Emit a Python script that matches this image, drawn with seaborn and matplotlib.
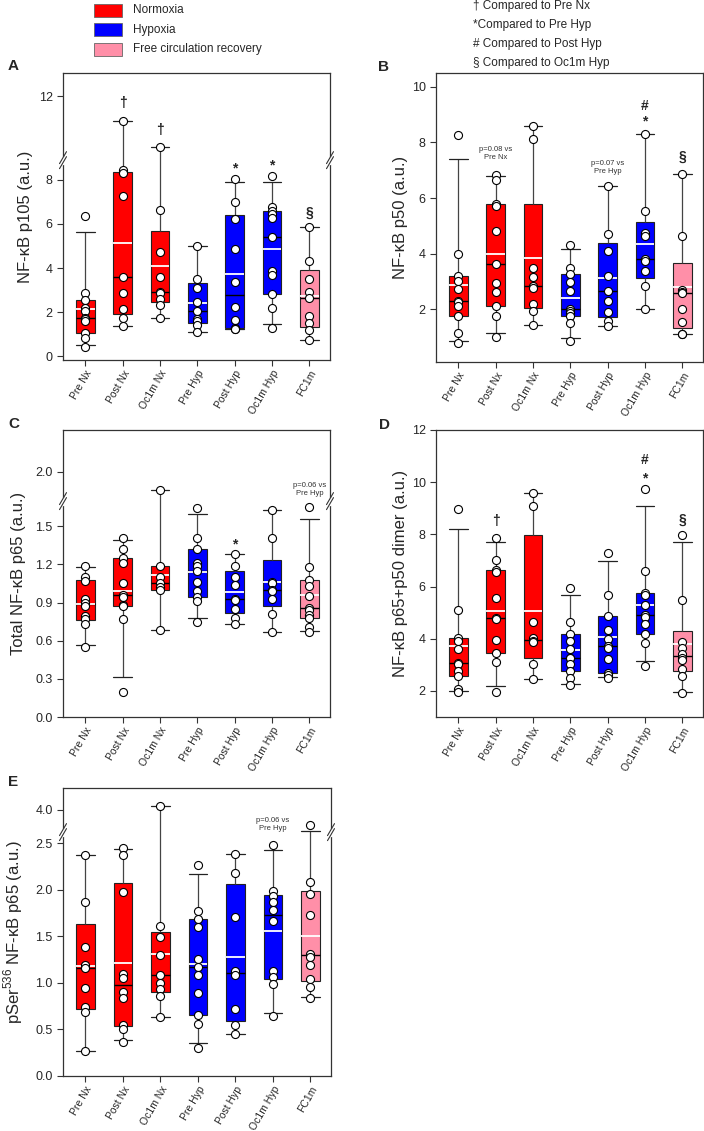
import numpy as np
import pandas as pd
import seaborn as sns
import matplotlib as mpl
import matplotlib.pyplot as plt
from matplotlib.patches import Rectangle
from matplotlib.ticker import FormatStrFormatter

# Conditions and colours
conds = ['Pre Nx', 'Post Nx', 'Oc1m Nx', 'Pre Hyp', 'Post Hyp', 'Oc1m Hyp', 'FC1m']
cond_colors = ['#FF0000', '#FF0000', '#FF0000', '#0000FF', '#0000FF', '#0000FF', '#FF8FA8']
legend_labels = ['Normoxia', 'Hypoxia', 'Free circulation recovery']
legend_colors = ['#FF0000', '#0000FF', '#FF8FA8']
sig_labels = ['\u2020 Compared to Pre Nx', '*Compared to Pre Hyp',
              '# Compared to Post Hyp', '\u00a7 Compared to Oc1m Hyp']

# Individual values per condition
p105 = [
    [6.35, 2.88, 2.55, 2.2, 2.05, 1.72, 1.7, 1.6, 1.05, 0.82, 0.42],
    [10.9, 8.45, 8.3, 7.28, 3.6, 2.85, 2.13, 1.72, 1.37],
    [9.7, 6.65, 4.71, 3.6, 2.9, 2.88, 2.6, 2.32, 1.71],
    [5.0, 3.5, 3.1, 2.45, 2.05, 1.68, 1.57, 1.4, 1.1],
    [8.03, 7.0, 6.23, 4.88, 3.37, 2.22, 1.62, 1.26, 1.25, 1.22],
    [8.2, 6.75, 6.6, 6.45, 6.25, 5.42, 3.85, 3.68, 2.8, 2.18, 1.26],
    [5.85, 4.3, 3.5, 2.9, 2.65, 1.8, 1.5, 1.18, 0.75],
]
p50 = [
    [8.26, 4.0, 3.21, 3.0, 2.73, 2.3, 2.25, 2.11, 1.77, 1.14, 0.78],
    [6.84, 6.65, 5.77, 5.7, 4.82, 3.63, 2.93, 2.61, 2.11, 1.77, 1.0],
    [8.59, 8.11, 3.47, 3.15, 2.85, 2.77, 2.19, 1.93, 1.44],
    [4.32, 3.47, 3.26, 2.97, 2.66, 2.01, 1.95, 1.85, 1.74, 1.51, 0.84],
    [6.43, 4.69, 4.1, 3.18, 2.67, 2.28, 1.89, 1.56, 1.41],
    [8.32, 5.52, 4.76, 4.64, 3.8, 3.75, 3.39, 2.83, 2.0],
    [6.86, 4.64, 2.7, 2.62, 2.58, 2.0, 1.53, 1.12, 1.1],
]
p65_total = [
    [1.19, 1.1, 1.07, 0.93, 0.9, 0.87, 0.79, 0.77, 0.73, 0.55],
    [1.41, 1.32, 1.25, 1.21, 1.05, 0.96, 0.94, 0.88, 0.87, 0.77, 0.2],
    [1.86, 1.19, 1.1, 1.05, 1.02, 1.0, 0.68],
    [1.64, 1.41, 1.32, 1.21, 1.19, 1.15, 1.06, 0.99, 0.94, 0.91, 0.75],
    [1.28, 1.19, 1.1, 1.04, 0.93, 0.92, 0.85, 0.78, 0.73],
    [1.63, 1.41, 1.06, 1.05, 1.0, 0.99, 0.93, 0.81, 0.67],
    [1.65, 1.18, 1.08, 1.03, 0.95, 0.86, 0.84, 0.8, 0.78, 0.71, 0.67],
]
dimer = [
    [8.98, 5.12, 4.02, 3.91, 3.59, 3.08, 3.05, 2.76, 2.57, 2.06, 1.97],
    [7.86, 7.03, 6.65, 6.56, 5.57, 4.8, 4.75, 3.97, 3.46, 3.11, 1.94],
    [9.58, 9.1, 4.65, 4.04, 3.9, 3.87, 3.04, 2.47],
    [5.95, 4.65, 4.19, 3.91, 3.59, 3.27, 3.25, 3.02, 2.76, 2.51, 2.22],
    [7.29, 5.69, 4.89, 4.32, 4.0, 3.72, 3.65, 3.24, 2.7, 2.6, 2.51],
    [9.73, 6.59, 5.76, 5.67, 5.31, 4.9, 4.82, 4.55, 4.17, 3.82, 2.96],
    [7.96, 5.5, 3.87, 3.66, 3.4, 3.27, 3.18, 2.83, 2.57, 1.91],
]
pser536 = [
    [2.37, 1.87, 1.39, 1.19, 1.16, 0.95, 0.74, 0.69, 0.27],
    [2.45, 2.37, 1.98, 1.1, 1.05, 0.9, 0.84, 0.55, 0.5, 0.37],
    [4.04, 1.61, 1.49, 1.3, 1.09, 1.0, 0.94, 0.86, 0.63],
    [2.27, 1.77, 1.69, 1.6, 1.26, 1.17, 1.09, 0.89, 0.66, 0.56, 0.3],
    [2.39, 2.18, 1.71, 1.13, 1.09, 0.72, 0.55, 0.45],
    [2.48, 1.99, 1.93, 1.87, 1.78, 1.67, 1.13, 1.06, 0.99, 0.64],
    [3.84, 2.08, 1.96, 1.73, 1.31, 1.28, 1.19, 1.04, 0.96, 0.84],
]

# SigmaPlot style percentiles ((n+1)p), whiskers at 10th/90th
_orig_stats = mpl.cbook.boxplot_stats


def sigmaplot_stats(X, whis=1.5, **kws):
    stats = _orig_stats(X, whis=whis, **kws)
    for s, x in zip(stats, X):
        q = np.percentile(x, [25, 50, 75] + list(whis), method='weibull')
        s['q1'], s['med'], s['q3'], s['whislo'], s['whishi'] = q
    return stats


mpl.cbook.boxplot_stats = sigmaplot_stats

sns.set_style('ticks')
plt.rcParams['font.family'] = ['Liberation Sans', 'DejaVu Sans']
plt.rcParams['mathtext.fontset'] = 'custom'
plt.rcParams['mathtext.rm'] = 'Liberation Sans'

W, H = 704, 1131
fig = plt.figure(figsize=(W / 100, H / 100), dpi=100)


def px_rect(l, t, r, b):
    return [l / W, 1 - b / H, (r - l) / W, (b - t) / H]


def make_break(lo, hi):
    def fwd(y):
        y = np.asarray(y, dtype=float)
        return np.where(y <= lo, y, np.where(y >= hi, lo + (y - hi), lo))

    def inv(u):
        u = np.asarray(u, dtype=float)
        return np.where(u <= lo, u, hi + (u - lo))
    return fwd, inv


def draw_break(ax, lo, fwd, ylim):
    u0, u1 = fwd(ylim[0]), fwd(ylim[1])
    yb = (lo - u0) / (u1 - u0)
    bb = ax.get_position()
    aw, ah = bb.width * W, bb.height * H
    dx, dy, gap = 3.5 / aw, 6 / ah, 2.5 / ah
    for x0 in (0, 1):
        ax.plot([x0, x0], [yb - gap, yb + gap], transform=ax.transAxes,
                color='white', lw=2.5, clip_on=False, zorder=10)
        for off in (-gap, gap):
            ax.plot([x0 - dx, x0 + dx], [yb + off - dy, yb + off + dy],
                    transform=ax.transAxes, color='#333333', lw=0.8,
                    clip_on=False, zorder=11)


panels = [
    dict(letter='A', data=p105, rect=(63, 73, 330, 360), ylim=(-0.18, 13.06),
         brk=(8.9, 9.1), ticks=[0, 2, 4, 6, 8, 12], fmt='%d',
         ylabel='NF-\u03baB p105 (a.u.)', lab_x=-0.112, letter_xy=(8, 66),
         notes=[(1, 11.7, '\u2020'), (2, 10.47, '\u2020'), (4, 8.5, '*'),
                (5, 8.65, '*'), (6, 6.5, '\u00a7')]),
    dict(letter='B', data=p50, rect=(436, 73, 703, 362), ylim=(0.1, 10.5),
         brk=None, ticks=[2, 4, 6, 8, 10], fmt='%d',
         ylabel='NF-\u03baB p50 (a.u.)', lab_x=-0.105, letter_xy=(378, 67),
         notes=[(1, 7.6, 'p=0.08 vs\nPre Nx'), (4, 7.1, 'p=0.07 vs\nPre Hyp'),
                (5, 9.33, '#'), (5, 8.75, '*'), (6, 7.49, '\u00a7')]),
    dict(letter='C', data=p65_total, rect=(63, 430, 330, 717), ylim=(0.0, 2.33),
         brk=(1.697, 1.771), ticks=[0.0, 0.3, 0.6, 0.9, 1.2, 1.5, 2.0], fmt='%.1f',
         ylabel='Total NF-\u03baB p65 (a.u.)', lab_x=-0.14, letter_xy=(8, 424),
         notes=[(4, 1.36, '*'), (6, 1.86, 'p=0.06 vs\nPre Hyp')]),
    dict(letter='D', data=dimer, rect=(436, 430, 703, 717), ylim=(1.0, 12.0),
         brk=None, ticks=[2, 4, 6, 8, 10, 12], fmt='%d',
         ylabel='NF-\u03baB p65+p50 dimer (a.u.)', lab_x=-0.105, letter_xy=(379, 425),
         notes=[(1, 8.5, '\u2020'), (5, 10.85, '#'), (5, 10.15, '*'),
                (6, 8.56, '\u00a7')]),
    dict(letter='E', data=pser536, rect=(63, 788, 331, 1076), ylim=(0.0, 4.236),
         brk=(2.62, 3.762), ticks=[0.0, 0.5, 1.0, 1.5, 2.0, 2.5, 4.0], fmt='%.1f',
         ylabel='pSer$^{536}$ NF-\u03baB p65 (a.u.)', lab_x=-0.14, letter_xy=(8, 782),
         notes=[(5, 3.84, 'p=0.06 vs\nPre Hyp')]),
]

palette = dict(zip(conds, cond_colors))

for p in panels:
    ax = fig.add_axes(px_rect(*p['rect']))
    if p['brk'] is not None:
        fwd, inv = make_break(*p['brk'])
        ax.set_yscale('function', functions=(fwd, inv))

    df = pd.DataFrame({
        'cond': np.repeat(conds, [len(g) for g in p['data']]),
        'value': np.concatenate(p['data']),
    })

    sns.boxplot(data=df, x='cond', y='value', order=conds, hue='cond',
                palette=palette, saturation=1, legend=False, width=0.5,
                whis=(10, 90), showfliers=False, linecolor='#222222',
                linewidth=0.8, showmeans=True, meanline=True,
                meanprops={'color': 'white', 'linestyle': '-', 'linewidth': 1.3},
                medianprops={'color': 'black', 'linewidth': 1.0},
                whiskerprops={'color': '#444444', 'linewidth': 0.9},
                capprops={'color': '#222222', 'linewidth': 0.9},
                capwidths=0.5, ax=ax)
    sns.stripplot(data=df, x='cond', y='value', order=conds, jitter=False,
                  color='white', edgecolor='black', linewidth=0.8, size=5.8,
                  ax=ax, zorder=5)

    ax.set_xlim(-0.6, 6.55)
    ax.set_ylim(*p['ylim'])
    ax.set_yticks(p['ticks'])
    ax.yaxis.set_major_formatter(FormatStrFormatter(p['fmt']))
    ax.set_xlabel('')
    ax.set_ylabel(p['ylabel'], fontsize=12)
    ax.yaxis.set_label_coords(p['lab_x'], 0.5)
    ax.tick_params(axis='both', direction='out', length=4, width=0.8,
                   color='#333333', labelsize=9)
    ax.tick_params(axis='x', labelsize=7.5, pad=2)
    for lbl in ax.get_xticklabels():
        lbl.set_rotation(60)
        lbl.set_ha('right')
        lbl.set_rotation_mode('anchor')
    for s in ax.spines.values():
        s.set_visible(True)
        s.set_color('#333333')
        s.set_linewidth(0.9)

    for xi, yv, txt in p['notes']:
        if txt.startswith('p='):
            ax.text(xi, yv, txt, ha='center', va='center', fontsize=5.5,
                    color='#333333', linespacing=1.2, zorder=6)
        else:
            ax.text(xi, yv, txt, ha='center', va='center', fontsize=10,
                    fontweight='bold', zorder=6)

    if p['brk'] is not None:
        draw_break(ax, p['brk'][0], fwd, p['ylim'])

    lx, ly = p['letter_xy']
    fig.text(lx / W, 1 - ly / H, p['letter'], fontsize=11, fontweight='bold',
             va='center', ha='left')

# Group legend (top left)
for i, (lab, col) in enumerate(zip(legend_labels, legend_colors)):
    yc = 10 + i * 19.5
    fig.add_artist(Rectangle((94 / W, 1 - (yc + 6.5) / H), 28 / W, 13 / H,
                             facecolor=col, edgecolor='#666666', lw=0.6,
                             transform=fig.transFigure))
    fig.text(133 / W, 1 - yc / H, lab, fontsize=8.5, va='center', ha='left')

# Significance key (top right)
for i, lab in enumerate(sig_labels):
    yc = 6 + i * 19
    fig.text(473 / W, 1 - yc / H, lab, fontsize=8.5, va='center', ha='left')

fig.savefig('out.png', dpi=100)
